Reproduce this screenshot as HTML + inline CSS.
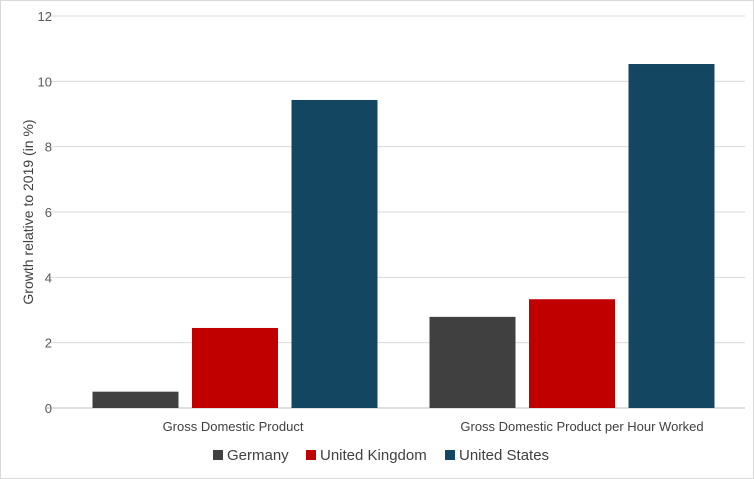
<!DOCTYPE html>
<html><head><meta charset="utf-8"><style>
body{margin:0;background:#fff}
svg{display:block;font-family:"Liberation Sans",sans-serif}
</style></head><body>
<svg id="chart" width="754" height="479">
<rect x="0.5" y="0.5" width="753" height="478" fill="#fff" stroke="#d9d9d9"/>
<g id="grid"></g><g id="bars"></g><g id="labels"></g>
<text transform="translate(33,212) rotate(-90)" text-anchor="middle" font-size="14" fill="#404040">Growth relative to 2019 (in %)</text>
<g font-size="15" fill="#404040">
<rect x="213" y="450" width="10" height="10" fill="#404040"/>
<text x="227" y="460">Germany</text>
<rect x="306" y="450" width="10" height="10" fill="#c00000"/>
<text x="320" y="460">United Kingdom</text>
<rect x="445" y="450" width="10" height="10" fill="#134660"/>
<text x="459" y="460">United States</text>
</g>
</svg>
<script>
const categories=["Gross Domestic Product","Gross Domestic Product per Hour Worked"];
const germany=[0.5,2.79];
const uk=[2.45,3.33];
const us=[9.43,10.53];
const yTicks=[0,2,4,6,8,10,12];
const seriesNames=["germany","uk","us"];
const colors=["#404040","#c00000","#134660"];
const NS="http://www.w3.org/2000/svg";
const y0=408,yTop=16,yMax=12,xL=47,xR=745;
const bL=66.5,bR=740.5;
const y=v=>y0-(v/yMax)*(y0-yTop);
const groupW=(bR-bL)/categories.length;
const barW=86,barGap=13.5;
function mk(tag,attrs,parent){const e=document.createElementNS(NS,tag);for(const k in attrs)e.setAttribute(k,attrs[k]);parent.appendChild(e);return e;}
const grid=document.getElementById('grid');
yTicks.forEach(t=>{
 const l=mk('line',{x1:xL,x2:xR,y1:y(t),y2:y(t),stroke:t===0?'#bfbfbf':'#d9d9d9','stroke-width':1},grid);
 
 
 const tx=mk('text',{x:52,y:y(t)+5,'text-anchor':'end','font-size':13,fill:'#595959'},grid);
 tx.textContent=t;
 
 
});
const bars=document.getElementById('bars');
const data=[germany,uk,us];
categories.forEach((c,i)=>{
 const cx=bL+groupW*(i+0.5);
 const total=3*barW+2*barGap;
 data.forEach((s,j)=>{
  const x=cx-total/2+j*(barW+barGap);
  const r=mk('rect',{x:x,y:y(s[i]),width:barW,height:y0-y(s[i]),fill:colors[j]},bars);
  
  
 });
 const t=mk('text',{x:cx+(i?10:-2),y:431,'text-anchor':'middle','font-size':13,fill:'#404040'},document.getElementById('labels'));
 t.textContent=c;
 
 
});
</script>
</body></html>
